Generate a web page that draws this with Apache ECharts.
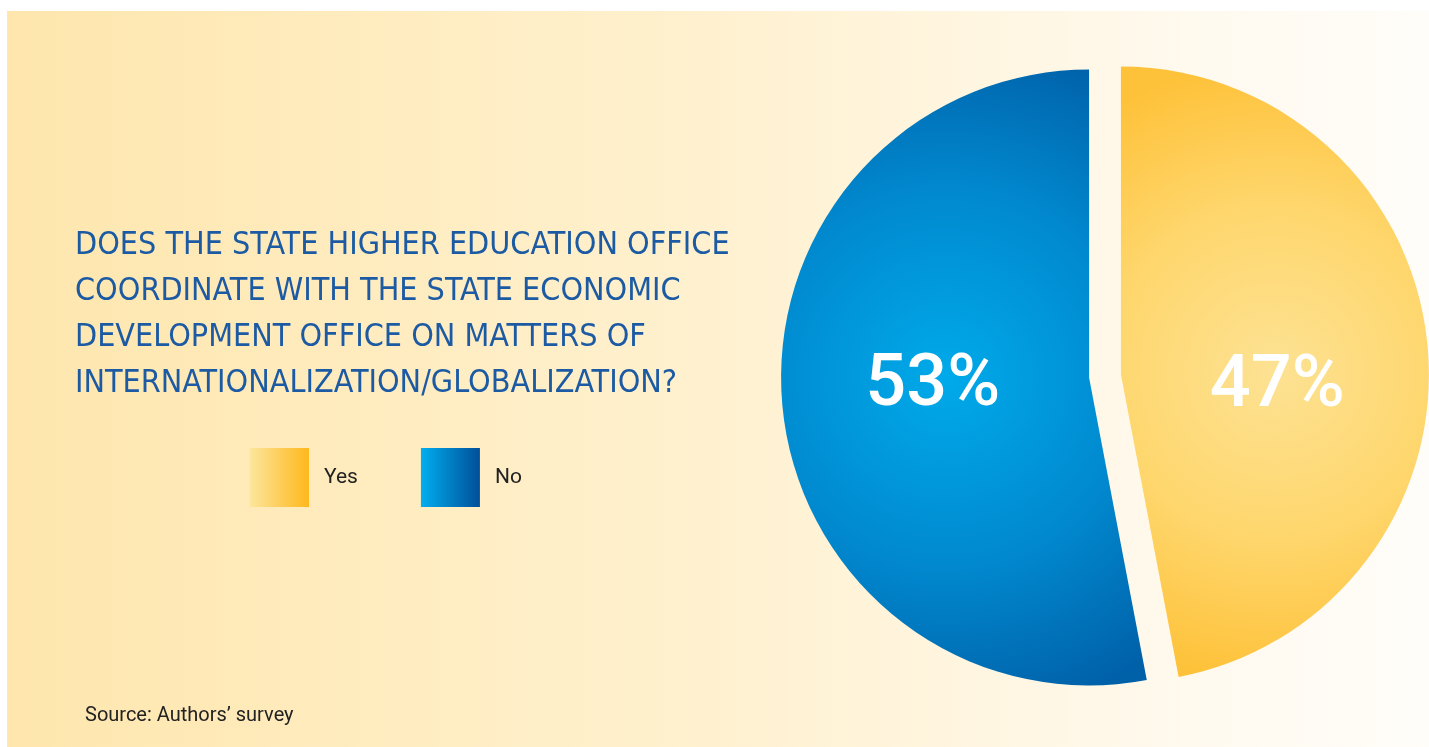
<!DOCTYPE html>
<html>
<head>
<meta charset="utf-8">
<script src="https://cdn.jsdelivr.net/npm/echarts@6/dist/echarts.min.js"></script>
<style>
html,body{margin:0;padding:0;background:#ffffff;}
#chart{width:1429px;height:747px;}
</style>
</head>
<body>
<div id="chart"></div>
<script>
const categories = ['Yes', 'No'];
const values = [47, 53];
const titleText = 'DOES THE STATE HIGHER EDUCATION OFFICE\nCOORDINATE WITH THE STATE ECONOMIC\nDEVELOPMENT OFFICE ON MATTERS OF\nINTERNATIONALIZATION/GLOBALIZATION?';
const sourceText = 'Source: Authors\u2019 survey';

const chart = echarts.init(document.getElementById('chart'), null, {renderer: 'canvas'});

const sliceFill = [
  new echarts.graphic.RadialGradient(0.5, 0.5, 1.0, [
    {offset: 0, color: '#fde293'},
    {offset: 0.55, color: '#fed66c'},
    {offset: 1, color: '#fec23a'}
  ]),
  new echarts.graphic.RadialGradient(0.45, 0.5, 0.95, [
    {offset: 0, color: '#00aaea'},
    {offset: 0.55, color: '#0188ce'},
    {offset: 1, color: '#0060a8'}
  ])
];
const legendFill = [
  new echarts.graphic.LinearGradient(0, 0, 1, 0, [
    {offset: 0, color: '#fde59c'},
    {offset: 1, color: '#feb81b'}
  ]),
  new echarts.graphic.LinearGradient(0, 0, 1, 0, [
    {offset: 0, color: '#00aeef'},
    {offset: 1, color: '#004f99'}
  ])
];
// spacer line heights (px) above / below each percentage label
const labelPadTop = [56, 0];
const labelPadBottom = [0, 10];

const valueStyle = {fontSize: 72, fontFamily: 'Roboto', fontWeight: 500, color: '#ffffff', lineHeight: 86};

chart.setOption({
  animation: false,
  backgroundColor: '#ffffff',
  graphic: [{
    type: 'rect',
    left: 7, top: 11, z: -10,
    shape: {width: 1422, height: 736},
    style: {
      fill: new echarts.graphic.LinearGradient(0, 0, 1, 0, [
        {offset: 0, color: '#fee6ad'},
        {offset: 0.5, color: '#fff1d0'},
        {offset: 0.85, color: '#fffaf0'},
        {offset: 1, color: '#fffdf9'}
      ])
    },
    silent: true
  }],
  title: [{
    text: titleText,
    left: 70, top: 218,
    textStyle: {
      fontFamily: 'DejaVu Sans Condensed, Roboto, sans-serif',
      fontSize: 32, fontWeight: 'normal',
      color: '#1c5ba3', lineHeight: 46
    }
  }, {
    text: sourceText,
    left: 80, top: 701,
    textStyle: {
      fontFamily: 'Roboto', fontSize: 20, fontWeight: 'normal', color: '#222222'
    }
  }],
  legend: {
    left: 245, top: 443,
    orient: 'horizontal',
    itemWidth: 59, itemHeight: 59,
    itemGap: 63,
    icon: 'rect',
    selectedMode: false,
    textStyle: {fontFamily: 'Roboto', fontSize: 21, color: '#222222', padding: [0, 0, 0, 10]},
    data: categories.map((c, i) => ({name: c, itemStyle: {color: legendFill[i]}}))
  },
  series: [{
    type: 'pie',
    center: [1105, 376],
    radius: [0, 308],
    startAngle: 90,
    clockwise: true,
    selectedMode: 'multiple',
    selectedOffset: 16,
    avoidLabelOverlap: false,
    emphasis: {disabled: true},
    label: {
      show: true,
      position: 'inside',
      color: '#ffffff',
      fontFamily: 'Roboto',
      fontWeight: 500,
      fontSize: 72
    },
    labelLine: {show: false},
    data: categories.map((c, i) => ({
      name: c,
      value: values[i],
      selected: true,
      itemStyle: {color: sliceFill[i]},
      label: {
        formatter: (labelPadTop[i] ? '{p| }\n' : '') + '{v|{c}%}' + (labelPadBottom[i] ? '\n{q| }' : ''),
        rich: {
          p: {fontSize: 10, lineHeight: labelPadTop[i] || 1, height: labelPadTop[i] || 1},
          q: {fontSize: 10, lineHeight: labelPadBottom[i] || 1, height: labelPadBottom[i] || 1},
          v: valueStyle
        }
      }
    }))
  }]
});
</script>
</body>
</html>
